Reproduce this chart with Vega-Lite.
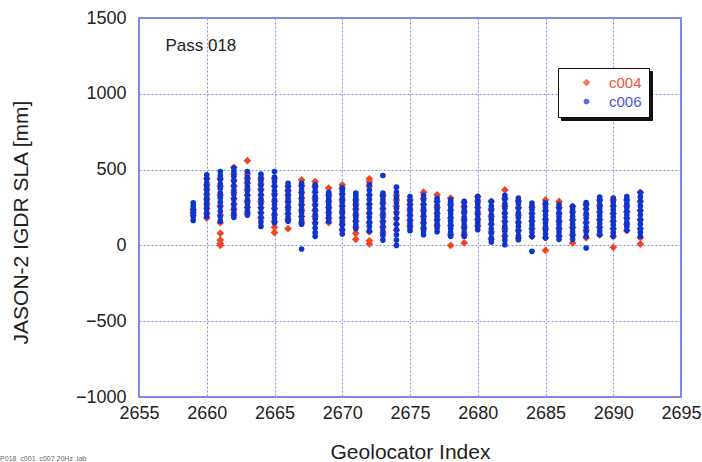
{
"$schema":"https://vega.github.io/schema/vega-lite/v6.json",
"width":542,"height":379,
"autosize":"none",
"padding":{"left":139,"top":18,"right":21,"bottom":65},
"background":"#ffffff",
"config":{"view":{"stroke":"#4f63e6","strokeWidth":1.5,"fill":"#ffffff"},"font":"Liberation Sans"},
"layer":[
{"data":{"values":[
{"i":2659,"s":"c004","v":200},{"i":2659,"s":"c004","v":218},{"i":2659,"s":"c004","v":235},
{"i":2660,"s":"c004","v":180},{"i":2660,"s":"c004","v":210},{"i":2660,"s":"c004","v":245},{"i":2660,"s":"c004","v":275},{"i":2660,"s":"c004","v":305},{"i":2660,"s":"c004","v":335},{"i":2660,"s":"c004","v":370},{"i":2660,"s":"c004","v":400},{"i":2660,"s":"c004","v":440},
{"i":2661,"s":"c004","v":0},{"i":2661,"s":"c004","v":12},{"i":2661,"s":"c004","v":35},{"i":2661,"s":"c004","v":80},{"i":2661,"s":"c004","v":150},{"i":2661,"s":"c004","v":200},{"i":2661,"s":"c004","v":260},{"i":2661,"s":"c004","v":330},{"i":2661,"s":"c004","v":390},{"i":2661,"s":"c004","v":440},
{"i":2662,"s":"c004","v":200},{"i":2662,"s":"c004","v":235},{"i":2662,"s":"c004","v":270},{"i":2662,"s":"c004","v":310},{"i":2662,"s":"c004","v":350},{"i":2662,"s":"c004","v":390},{"i":2662,"s":"c004","v":430},{"i":2662,"s":"c004","v":470},{"i":2662,"s":"c004","v":515},
{"i":2663,"s":"c004","v":210},{"i":2663,"s":"c004","v":250},{"i":2663,"s":"c004","v":290},{"i":2663,"s":"c004","v":330},{"i":2663,"s":"c004","v":370},{"i":2663,"s":"c004","v":410},{"i":2663,"s":"c004","v":440},{"i":2663,"s":"c004","v":470},{"i":2663,"s":"c004","v":559},
{"i":2664,"s":"c004","v":180},{"i":2664,"s":"c004","v":215},{"i":2664,"s":"c004","v":250},{"i":2664,"s":"c004","v":290},{"i":2664,"s":"c004","v":330},{"i":2664,"s":"c004","v":370},{"i":2664,"s":"c004","v":405},{"i":2664,"s":"c004","v":440},
{"i":2665,"s":"c004","v":85},{"i":2665,"s":"c004","v":120},{"i":2665,"s":"c004","v":160},{"i":2665,"s":"c004","v":200},{"i":2665,"s":"c004","v":245},{"i":2665,"s":"c004","v":290},{"i":2665,"s":"c004","v":340},{"i":2665,"s":"c004","v":390},{"i":2665,"s":"c004","v":440},
{"i":2666,"s":"c004","v":110},{"i":2666,"s":"c004","v":170},{"i":2666,"s":"c004","v":210},{"i":2666,"s":"c004","v":250},{"i":2666,"s":"c004","v":290},{"i":2666,"s":"c004","v":330},{"i":2666,"s":"c004","v":360},{"i":2666,"s":"c004","v":390},
{"i":2667,"s":"c004","v":150},{"i":2667,"s":"c004","v":190},{"i":2667,"s":"c004","v":230},{"i":2667,"s":"c004","v":270},{"i":2667,"s":"c004","v":310},{"i":2667,"s":"c004","v":350},{"i":2667,"s":"c004","v":395},{"i":2667,"s":"c004","v":432},
{"i":2668,"s":"c004","v":150},{"i":2668,"s":"c004","v":190},{"i":2668,"s":"c004","v":230},{"i":2668,"s":"c004","v":270},{"i":2668,"s":"c004","v":310},{"i":2668,"s":"c004","v":350},{"i":2668,"s":"c004","v":390},{"i":2668,"s":"c004","v":421},
{"i":2669,"s":"c004","v":150},{"i":2669,"s":"c004","v":180},{"i":2669,"s":"c004","v":215},{"i":2669,"s":"c004","v":250},{"i":2669,"s":"c004","v":290},{"i":2669,"s":"c004","v":330},{"i":2669,"s":"c004","v":378},
{"i":2670,"s":"c004","v":100},{"i":2670,"s":"c004","v":140},{"i":2670,"s":"c004","v":180},{"i":2670,"s":"c004","v":220},{"i":2670,"s":"c004","v":260},{"i":2670,"s":"c004","v":300},{"i":2670,"s":"c004","v":340},{"i":2670,"s":"c004","v":375},{"i":2670,"s":"c004","v":400},
{"i":2671,"s":"c004","v":40},{"i":2671,"s":"c004","v":80},{"i":2671,"s":"c004","v":120},{"i":2671,"s":"c004","v":160},{"i":2671,"s":"c004","v":200},{"i":2671,"s":"c004","v":240},{"i":2671,"s":"c004","v":270},{"i":2671,"s":"c004","v":300},
{"i":2672,"s":"c004","v":10},{"i":2672,"s":"c004","v":30},{"i":2672,"s":"c004","v":90},{"i":2672,"s":"c004","v":150},{"i":2672,"s":"c004","v":210},{"i":2672,"s":"c004","v":270},{"i":2672,"s":"c004","v":330},{"i":2672,"s":"c004","v":390},{"i":2672,"s":"c004","v":420},{"i":2672,"s":"c004","v":439},
{"i":2673,"s":"c004","v":80},{"i":2673,"s":"c004","v":120},{"i":2673,"s":"c004","v":160},{"i":2673,"s":"c004","v":200},{"i":2673,"s":"c004","v":240},{"i":2673,"s":"c004","v":280},{"i":2673,"s":"c004","v":330},
{"i":2674,"s":"c004","v":100},{"i":2674,"s":"c004","v":140},{"i":2674,"s":"c004","v":180},{"i":2674,"s":"c004","v":220},{"i":2674,"s":"c004","v":260},{"i":2674,"s":"c004","v":300},{"i":2674,"s":"c004","v":330},
{"i":2675,"s":"c004","v":130},{"i":2675,"s":"c004","v":165},{"i":2675,"s":"c004","v":200},{"i":2675,"s":"c004","v":235},{"i":2675,"s":"c004","v":270},{"i":2675,"s":"c004","v":300},
{"i":2676,"s":"c004","v":110},{"i":2676,"s":"c004","v":150},{"i":2676,"s":"c004","v":190},{"i":2676,"s":"c004","v":230},{"i":2676,"s":"c004","v":270},{"i":2676,"s":"c004","v":310},{"i":2676,"s":"c004","v":351},
{"i":2677,"s":"c004","v":130},{"i":2677,"s":"c004","v":170},{"i":2677,"s":"c004","v":210},{"i":2677,"s":"c004","v":250},{"i":2677,"s":"c004","v":290},{"i":2677,"s":"c004","v":334},
{"i":2678,"s":"c004","v":0},{"i":2678,"s":"c004","v":70},{"i":2678,"s":"c004","v":130},{"i":2678,"s":"c004","v":180},{"i":2678,"s":"c004","v":230},{"i":2678,"s":"c004","v":270},{"i":2678,"s":"c004","v":312},
{"i":2679,"s":"c004","v":16},{"i":2679,"s":"c004","v":70},{"i":2679,"s":"c004","v":120},{"i":2679,"s":"c004","v":170},{"i":2679,"s":"c004","v":220},{"i":2679,"s":"c004","v":255},{"i":2679,"s":"c004","v":283},
{"i":2680,"s":"c004","v":130},{"i":2680,"s":"c004","v":170},{"i":2680,"s":"c004","v":210},{"i":2680,"s":"c004","v":250},{"i":2680,"s":"c004","v":290},{"i":2680,"s":"c004","v":322},
{"i":2681,"s":"c004","v":40},{"i":2681,"s":"c004","v":90},{"i":2681,"s":"c004","v":140},{"i":2681,"s":"c004","v":190},{"i":2681,"s":"c004","v":240},{"i":2681,"s":"c004","v":290},
{"i":2682,"s":"c004","v":60},{"i":2682,"s":"c004","v":110},{"i":2682,"s":"c004","v":160},{"i":2682,"s":"c004","v":210},{"i":2682,"s":"c004","v":260},{"i":2682,"s":"c004","v":310},{"i":2682,"s":"c004","v":366},
{"i":2683,"s":"c004","v":50},{"i":2683,"s":"c004","v":100},{"i":2683,"s":"c004","v":150},{"i":2683,"s":"c004","v":200},{"i":2683,"s":"c004","v":250},{"i":2683,"s":"c004","v":290},
{"i":2684,"s":"c004","v":60},{"i":2684,"s":"c004","v":110},{"i":2684,"s":"c004","v":160},{"i":2684,"s":"c004","v":210},{"i":2684,"s":"c004","v":250},
{"i":2685,"s":"c004","v":-33},{"i":2685,"s":"c004","v":50},{"i":2685,"s":"c004","v":110},{"i":2685,"s":"c004","v":170},{"i":2685,"s":"c004","v":230},{"i":2685,"s":"c004","v":270},{"i":2685,"s":"c004","v":300},
{"i":2686,"s":"c004","v":60},{"i":2686,"s":"c004","v":110},{"i":2686,"s":"c004","v":160},{"i":2686,"s":"c004","v":210},{"i":2686,"s":"c004","v":250},{"i":2686,"s":"c004","v":290},
{"i":2687,"s":"c004","v":16},{"i":2687,"s":"c004","v":70},{"i":2687,"s":"c004","v":120},{"i":2687,"s":"c004","v":170},{"i":2687,"s":"c004","v":220},{"i":2687,"s":"c004","v":257},
{"i":2688,"s":"c004","v":50},{"i":2688,"s":"c004","v":100},{"i":2688,"s":"c004","v":150},{"i":2688,"s":"c004","v":200},{"i":2688,"s":"c004","v":240},{"i":2688,"s":"c004","v":270},
{"i":2689,"s":"c004","v":70},{"i":2689,"s":"c004","v":120},{"i":2689,"s":"c004","v":170},{"i":2689,"s":"c004","v":220},{"i":2689,"s":"c004","v":260},{"i":2689,"s":"c004","v":300},
{"i":2690,"s":"c004","v":-13},{"i":2690,"s":"c004","v":60},{"i":2690,"s":"c004","v":110},{"i":2690,"s":"c004","v":160},{"i":2690,"s":"c004","v":210},{"i":2690,"s":"c004","v":260},{"i":2690,"s":"c004","v":300},
{"i":2691,"s":"c004","v":97},{"i":2691,"s":"c004","v":140},{"i":2691,"s":"c004","v":180},{"i":2691,"s":"c004","v":220},{"i":2691,"s":"c004","v":260},{"i":2691,"s":"c004","v":300},
{"i":2692,"s":"c004","v":9},{"i":2692,"s":"c004","v":51},{"i":2692,"s":"c004","v":110},{"i":2692,"s":"c004","v":170},{"i":2692,"s":"c004","v":230},{"i":2692,"s":"c004","v":290},{"i":2692,"s":"c004","v":349},
{"i":2659,"s":"c006","v":165},{"i":2659,"s":"c006","v":190},{"i":2659,"s":"c006","v":215},{"i":2659,"s":"c006","v":240},{"i":2659,"s":"c006","v":260},{"i":2659,"s":"c006","v":280},
{"i":2660,"s":"c006","v":190},{"i":2660,"s":"c006","v":215},{"i":2660,"s":"c006","v":240},{"i":2660,"s":"c006","v":265},{"i":2660,"s":"c006","v":290},{"i":2660,"s":"c006","v":315},{"i":2660,"s":"c006","v":340},{"i":2660,"s":"c006","v":365},{"i":2660,"s":"c006","v":390},{"i":2660,"s":"c006","v":415},{"i":2660,"s":"c006","v":440},{"i":2660,"s":"c006","v":465},
{"i":2661,"s":"c006","v":160},{"i":2661,"s":"c006","v":190},{"i":2661,"s":"c006","v":225},{"i":2661,"s":"c006","v":255},{"i":2661,"s":"c006","v":285},{"i":2661,"s":"c006","v":315},{"i":2661,"s":"c006","v":345},{"i":2661,"s":"c006","v":375},{"i":2661,"s":"c006","v":405},{"i":2661,"s":"c006","v":435},{"i":2661,"s":"c006","v":460},{"i":2661,"s":"c006","v":487},
{"i":2662,"s":"c006","v":185},{"i":2662,"s":"c006","v":215},{"i":2662,"s":"c006","v":245},{"i":2662,"s":"c006","v":275},{"i":2662,"s":"c006","v":305},{"i":2662,"s":"c006","v":335},{"i":2662,"s":"c006","v":365},{"i":2662,"s":"c006","v":395},{"i":2662,"s":"c006","v":425},{"i":2662,"s":"c006","v":455},{"i":2662,"s":"c006","v":485},{"i":2662,"s":"c006","v":510},
{"i":2663,"s":"c006","v":200},{"i":2663,"s":"c006","v":225},{"i":2663,"s":"c006","v":250},{"i":2663,"s":"c006","v":275},{"i":2663,"s":"c006","v":300},{"i":2663,"s":"c006","v":330},{"i":2663,"s":"c006","v":360},{"i":2663,"s":"c006","v":390},{"i":2663,"s":"c006","v":420},{"i":2663,"s":"c006","v":450},{"i":2663,"s":"c006","v":487},
{"i":2664,"s":"c006","v":125},{"i":2664,"s":"c006","v":155},{"i":2664,"s":"c006","v":185},{"i":2664,"s":"c006","v":215},{"i":2664,"s":"c006","v":245},{"i":2664,"s":"c006","v":275},{"i":2664,"s":"c006","v":305},{"i":2664,"s":"c006","v":335},{"i":2664,"s":"c006","v":365},{"i":2664,"s":"c006","v":395},{"i":2664,"s":"c006","v":425},{"i":2664,"s":"c006","v":445},{"i":2664,"s":"c006","v":470},
{"i":2665,"s":"c006","v":150},{"i":2665,"s":"c006","v":180},{"i":2665,"s":"c006","v":210},{"i":2665,"s":"c006","v":240},{"i":2665,"s":"c006","v":270},{"i":2665,"s":"c006","v":300},{"i":2665,"s":"c006","v":330},{"i":2665,"s":"c006","v":360},{"i":2665,"s":"c006","v":390},{"i":2665,"s":"c006","v":420},{"i":2665,"s":"c006","v":450},{"i":2665,"s":"c006","v":487},
{"i":2666,"s":"c006","v":160},{"i":2666,"s":"c006","v":185},{"i":2666,"s":"c006","v":210},{"i":2666,"s":"c006","v":235},{"i":2666,"s":"c006","v":260},{"i":2666,"s":"c006","v":285},{"i":2666,"s":"c006","v":310},{"i":2666,"s":"c006","v":335},{"i":2666,"s":"c006","v":360},{"i":2666,"s":"c006","v":385},{"i":2666,"s":"c006","v":410},
{"i":2667,"s":"c006","v":-24},{"i":2667,"s":"c006","v":140},{"i":2667,"s":"c006","v":165},{"i":2667,"s":"c006","v":190},{"i":2667,"s":"c006","v":215},{"i":2667,"s":"c006","v":240},{"i":2667,"s":"c006","v":265},{"i":2667,"s":"c006","v":290},{"i":2667,"s":"c006","v":315},{"i":2667,"s":"c006","v":340},{"i":2667,"s":"c006","v":365},{"i":2667,"s":"c006","v":390},{"i":2667,"s":"c006","v":410},
{"i":2668,"s":"c006","v":60},{"i":2668,"s":"c006","v":85},{"i":2668,"s":"c006","v":115},{"i":2668,"s":"c006","v":145},{"i":2668,"s":"c006","v":175},{"i":2668,"s":"c006","v":205},{"i":2668,"s":"c006","v":235},{"i":2668,"s":"c006","v":265},{"i":2668,"s":"c006","v":295},{"i":2668,"s":"c006","v":325},{"i":2668,"s":"c006","v":355},{"i":2668,"s":"c006","v":380},{"i":2668,"s":"c006","v":400},
{"i":2669,"s":"c006","v":160},{"i":2669,"s":"c006","v":180},{"i":2669,"s":"c006","v":200},{"i":2669,"s":"c006","v":220},{"i":2669,"s":"c006","v":240},{"i":2669,"s":"c006","v":260},{"i":2669,"s":"c006","v":280},{"i":2669,"s":"c006","v":300},{"i":2669,"s":"c006","v":320},{"i":2669,"s":"c006","v":335},{"i":2669,"s":"c006","v":350},
{"i":2670,"s":"c006","v":75},{"i":2670,"s":"c006","v":105},{"i":2670,"s":"c006","v":135},{"i":2670,"s":"c006","v":160},{"i":2670,"s":"c006","v":185},{"i":2670,"s":"c006","v":210},{"i":2670,"s":"c006","v":235},{"i":2670,"s":"c006","v":260},{"i":2670,"s":"c006","v":285},{"i":2670,"s":"c006","v":310},{"i":2670,"s":"c006","v":335},{"i":2670,"s":"c006","v":360},{"i":2670,"s":"c006","v":380},
{"i":2671,"s":"c006","v":110},{"i":2671,"s":"c006","v":135},{"i":2671,"s":"c006","v":160},{"i":2671,"s":"c006","v":185},{"i":2671,"s":"c006","v":210},{"i":2671,"s":"c006","v":235},{"i":2671,"s":"c006","v":260},{"i":2671,"s":"c006","v":285},{"i":2671,"s":"c006","v":310},{"i":2671,"s":"c006","v":330},{"i":2671,"s":"c006","v":345},
{"i":2672,"s":"c006","v":95},{"i":2672,"s":"c006","v":125},{"i":2672,"s":"c006","v":155},{"i":2672,"s":"c006","v":185},{"i":2672,"s":"c006","v":215},{"i":2672,"s":"c006","v":245},{"i":2672,"s":"c006","v":275},{"i":2672,"s":"c006","v":305},{"i":2672,"s":"c006","v":335},{"i":2672,"s":"c006","v":365},{"i":2672,"s":"c006","v":400},
{"i":2673,"s":"c006","v":35},{"i":2673,"s":"c006","v":65},{"i":2673,"s":"c006","v":95},{"i":2673,"s":"c006","v":125},{"i":2673,"s":"c006","v":155},{"i":2673,"s":"c006","v":185},{"i":2673,"s":"c006","v":215},{"i":2673,"s":"c006","v":245},{"i":2673,"s":"c006","v":275},{"i":2673,"s":"c006","v":300},{"i":2673,"s":"c006","v":325},{"i":2673,"s":"c006","v":345},{"i":2673,"s":"c006","v":461},
{"i":2674,"s":"c006","v":0},{"i":2674,"s":"c006","v":35},{"i":2674,"s":"c006","v":70},{"i":2674,"s":"c006","v":105},{"i":2674,"s":"c006","v":140},{"i":2674,"s":"c006","v":175},{"i":2674,"s":"c006","v":210},{"i":2674,"s":"c006","v":245},{"i":2674,"s":"c006","v":280},{"i":2674,"s":"c006","v":315},{"i":2674,"s":"c006","v":350},{"i":2674,"s":"c006","v":384},
{"i":2675,"s":"c006","v":97},{"i":2675,"s":"c006","v":120},{"i":2675,"s":"c006","v":145},{"i":2675,"s":"c006","v":170},{"i":2675,"s":"c006","v":195},{"i":2675,"s":"c006","v":220},{"i":2675,"s":"c006","v":245},{"i":2675,"s":"c006","v":270},{"i":2675,"s":"c006","v":295},{"i":2675,"s":"c006","v":322},
{"i":2676,"s":"c006","v":70},{"i":2676,"s":"c006","v":95},{"i":2676,"s":"c006","v":120},{"i":2676,"s":"c006","v":145},{"i":2676,"s":"c006","v":170},{"i":2676,"s":"c006","v":195},{"i":2676,"s":"c006","v":220},{"i":2676,"s":"c006","v":245},{"i":2676,"s":"c006","v":270},{"i":2676,"s":"c006","v":300},{"i":2676,"s":"c006","v":330},
{"i":2677,"s":"c006","v":90},{"i":2677,"s":"c006","v":115},{"i":2677,"s":"c006","v":140},{"i":2677,"s":"c006","v":165},{"i":2677,"s":"c006","v":190},{"i":2677,"s":"c006","v":215},{"i":2677,"s":"c006","v":240},{"i":2677,"s":"c006","v":265},{"i":2677,"s":"c006","v":290},{"i":2677,"s":"c006","v":310},
{"i":2678,"s":"c006","v":60},{"i":2678,"s":"c006","v":85},{"i":2678,"s":"c006","v":110},{"i":2678,"s":"c006","v":135},{"i":2678,"s":"c006","v":160},{"i":2678,"s":"c006","v":185},{"i":2678,"s":"c006","v":210},{"i":2678,"s":"c006","v":235},{"i":2678,"s":"c006","v":260},{"i":2678,"s":"c006","v":285},{"i":2678,"s":"c006","v":300},
{"i":2679,"s":"c006","v":60},{"i":2679,"s":"c006","v":85},{"i":2679,"s":"c006","v":110},{"i":2679,"s":"c006","v":135},{"i":2679,"s":"c006","v":160},{"i":2679,"s":"c006","v":185},{"i":2679,"s":"c006","v":210},{"i":2679,"s":"c006","v":235},{"i":2679,"s":"c006","v":260},{"i":2679,"s":"c006","v":290},
{"i":2680,"s":"c006","v":103},{"i":2680,"s":"c006","v":125},{"i":2680,"s":"c006","v":150},{"i":2680,"s":"c006","v":175},{"i":2680,"s":"c006","v":200},{"i":2680,"s":"c006","v":225},{"i":2680,"s":"c006","v":250},{"i":2680,"s":"c006","v":275},{"i":2680,"s":"c006","v":300},{"i":2680,"s":"c006","v":322},
{"i":2681,"s":"c006","v":22},{"i":2681,"s":"c006","v":50},{"i":2681,"s":"c006","v":80},{"i":2681,"s":"c006","v":110},{"i":2681,"s":"c006","v":140},{"i":2681,"s":"c006","v":170},{"i":2681,"s":"c006","v":200},{"i":2681,"s":"c006","v":230},{"i":2681,"s":"c006","v":260},{"i":2681,"s":"c006","v":290},
{"i":2682,"s":"c006","v":5},{"i":2682,"s":"c006","v":35},{"i":2682,"s":"c006","v":65},{"i":2682,"s":"c006","v":95},{"i":2682,"s":"c006","v":125},{"i":2682,"s":"c006","v":155},{"i":2682,"s":"c006","v":185},{"i":2682,"s":"c006","v":215},{"i":2682,"s":"c006","v":245},{"i":2682,"s":"c006","v":275},{"i":2682,"s":"c006","v":305},{"i":2682,"s":"c006","v":330},
{"i":2683,"s":"c006","v":38},{"i":2683,"s":"c006","v":65},{"i":2683,"s":"c006","v":95},{"i":2683,"s":"c006","v":125},{"i":2683,"s":"c006","v":155},{"i":2683,"s":"c006","v":185},{"i":2683,"s":"c006","v":215},{"i":2683,"s":"c006","v":245},{"i":2683,"s":"c006","v":275},{"i":2683,"s":"c006","v":295},{"i":2683,"s":"c006","v":312},
{"i":2684,"s":"c006","v":-39},{"i":2684,"s":"c006","v":59},{"i":2684,"s":"c006","v":85},{"i":2684,"s":"c006","v":110},{"i":2684,"s":"c006","v":135},{"i":2684,"s":"c006","v":160},{"i":2684,"s":"c006","v":185},{"i":2684,"s":"c006","v":210},{"i":2684,"s":"c006","v":235},{"i":2684,"s":"c006","v":260},{"i":2684,"s":"c006","v":279},
{"i":2685,"s":"c006","v":50},{"i":2685,"s":"c006","v":75},{"i":2685,"s":"c006","v":100},{"i":2685,"s":"c006","v":125},{"i":2685,"s":"c006","v":150},{"i":2685,"s":"c006","v":175},{"i":2685,"s":"c006","v":200},{"i":2685,"s":"c006","v":225},{"i":2685,"s":"c006","v":250},{"i":2685,"s":"c006","v":280},
{"i":2686,"s":"c006","v":40},{"i":2686,"s":"c006","v":65},{"i":2686,"s":"c006","v":90},{"i":2686,"s":"c006","v":115},{"i":2686,"s":"c006","v":140},{"i":2686,"s":"c006","v":165},{"i":2686,"s":"c006","v":190},{"i":2686,"s":"c006","v":215},{"i":2686,"s":"c006","v":245},{"i":2686,"s":"c006","v":270},
{"i":2687,"s":"c006","v":40},{"i":2687,"s":"c006","v":65},{"i":2687,"s":"c006","v":90},{"i":2687,"s":"c006","v":115},{"i":2687,"s":"c006","v":140},{"i":2687,"s":"c006","v":165},{"i":2687,"s":"c006","v":190},{"i":2687,"s":"c006","v":215},{"i":2687,"s":"c006","v":235},{"i":2687,"s":"c006","v":257},
{"i":2688,"s":"c006","v":-17},{"i":2688,"s":"c006","v":60},{"i":2688,"s":"c006","v":90},{"i":2688,"s":"c006","v":120},{"i":2688,"s":"c006","v":150},{"i":2688,"s":"c006","v":180},{"i":2688,"s":"c006","v":210},{"i":2688,"s":"c006","v":240},{"i":2688,"s":"c006","v":265},{"i":2688,"s":"c006","v":283},
{"i":2689,"s":"c006","v":70},{"i":2689,"s":"c006","v":95},{"i":2689,"s":"c006","v":120},{"i":2689,"s":"c006","v":145},{"i":2689,"s":"c006","v":170},{"i":2689,"s":"c006","v":195},{"i":2689,"s":"c006","v":220},{"i":2689,"s":"c006","v":245},{"i":2689,"s":"c006","v":270},{"i":2689,"s":"c006","v":295},{"i":2689,"s":"c006","v":318},
{"i":2690,"s":"c006","v":60},{"i":2690,"s":"c006","v":85},{"i":2690,"s":"c006","v":110},{"i":2690,"s":"c006","v":135},{"i":2690,"s":"c006","v":160},{"i":2690,"s":"c006","v":185},{"i":2690,"s":"c006","v":210},{"i":2690,"s":"c006","v":235},{"i":2690,"s":"c006","v":260},{"i":2690,"s":"c006","v":285},{"i":2690,"s":"c006","v":312},
{"i":2691,"s":"c006","v":100},{"i":2691,"s":"c006","v":125},{"i":2691,"s":"c006","v":150},{"i":2691,"s":"c006","v":175},{"i":2691,"s":"c006","v":200},{"i":2691,"s":"c006","v":225},{"i":2691,"s":"c006","v":250},{"i":2691,"s":"c006","v":275},{"i":2691,"s":"c006","v":300},{"i":2691,"s":"c006","v":322},
{"i":2692,"s":"c006","v":59},{"i":2692,"s":"c006","v":85},{"i":2692,"s":"c006","v":110},{"i":2692,"s":"c006","v":140},{"i":2692,"s":"c006","v":170},{"i":2692,"s":"c006","v":200},{"i":2692,"s":"c006","v":230},{"i":2692,"s":"c006","v":260},{"i":2692,"s":"c006","v":290},{"i":2692,"s":"c006","v":320},{"i":2692,"s":"c006","v":349}
]},
"mark":{"type":"point","filled":true},
"encoding":{
"x":{"field":"i","type":"quantitative","scale":{"domain":[2655,2695],"nice":false,"zero":false},
"axis":{"values":[2655,2660,2665,2670,2675,2680,2685,2690,2695],"format":"d","title":"Geolocator Index","grid":true,"gridColor":"#7f8fe6","gridDash":[2,2],"gridWidth":1,"domain":false,"ticks":false,"labelFontSize":18,"labelFont":"Liberation Sans","labelColor":"#222222","labelPadding":7,"labelFlush":false,"titleFontSize":21,"titleFont":"Liberation Sans","titleFontWeight":"normal","titleColor":"#222222","titleY":61,"titleBaseline":"alphabetic"}},
"y":{"field":"v","type":"quantitative","scale":{"domain":[-1000,1500],"nice":false,"zero":false},
"axis":{"values":[-1000,-500,0,500,1000,1500],"format":"d","title":"JASON-2 IGDR SLA [mm]","grid":true,"gridColor":"#7f8fe6","gridDash":[2,2],"gridWidth":1,"domain":false,"ticks":false,"labelFontSize":18,"labelFont":"Liberation Sans","labelColor":"#222222","labelPadding":13,"labelFlush":false,"titleFontSize":21,"titleFont":"Liberation Sans","titleFontWeight":"normal","titleColor":"#222222","titleX":-112,"titleY":204,"titleBaseline":"alphabetic"}},
"color":{"field":"s","type":"nominal","scale":{"domain":["c004","c006"],"range":["#ee4524","#0b35cf"]},
"legend":{"orient":"none","legendX":419,"legendY":50,"title":null,"fillColor":"#ffffff","strokeColor":"#111111","padding":7,"symbolOffset":14,"labelOffset":15,"labelFontSize":15,"labelFont":"Liberation Sans","rowPadding":3,"symbolSize":30,"zindex":2,
"labelColor":{"expr":"datum.value === 'c004' ? '#ee5540' : '#4a5ad8'"}}},
"shape":{"field":"s","type":"nominal","scale":{"domain":["c004","c006"],"range":["diamond","circle"]}},
"size":{"field":"s","type":"nominal","scale":{"domain":["c004","c006"],"range":[60,32]},"legend":null},
"opacity":{"field":"s","type":"ordinal","scale":{"domain":["c006","c004"],"range":[1,1]},
"legend":{"orient":"none","legendX":422,"legendY":53,"title":null,"fillColor":"#111111","strokeColor":"#111111","padding":7,"symbolOffset":14,"labelOffset":48,"labelFontSize":15,"labelFont":"Liberation Sans","labelColor":"#111111","labelExpr":"''","rowPadding":3,"symbolSize":30,"symbolOpacity":0,"zindex":1}}
}},
{"data":{"values":[{"label":"Pass 018","i":2656.95,"v":1282}]},
"mark":{"type":"text","align":"left","baseline":"alphabetic","fontSize":17,"font":"Liberation Sans","color":"#222222"},
"encoding":{"x":{"field":"i","type":"quantitative"},"y":{"field":"v","type":"quantitative"},"text":{"field":"label"}}},
{"data":{"values":[{"label":"P018_c001_c007 20Hz .tab","i":2644.75,"v":-1385}]},
"mark":{"type":"text","align":"left","baseline":"top","fontSize":7,"font":"Liberation Sans","color":"#666666"},
"encoding":{"x":{"field":"i","type":"quantitative"},"y":{"field":"v","type":"quantitative"},"text":{"field":"label"}}}
]
}
